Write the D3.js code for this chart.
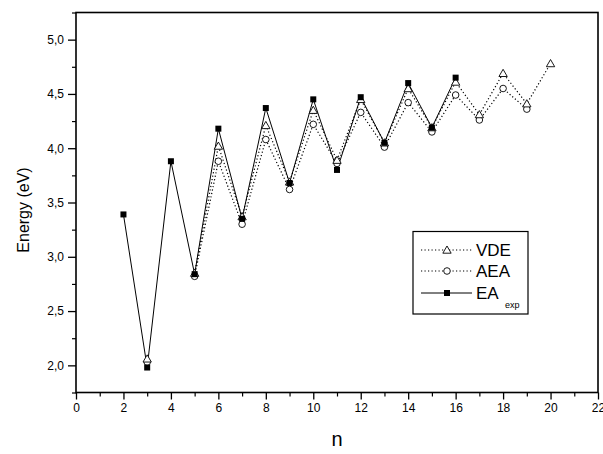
<!DOCTYPE html>
<html><head><meta charset="utf-8">
<script src="https://cdn.jsdelivr.net/npm/d3@7/dist/d3.min.js"></script>
<style>body{margin:0;background:#fff}svg{display:block}text{font-family:Arial,"Liberation Sans",sans-serif;fill:#000}</style>
</head><body><svg id="c" width="603" height="454"></svg>
<script>
const nExp = [2,3,4,5,6,7,8,9,10,11,12,13,14,15,16];
const eaExp = [3.39,1.98,3.88,2.84,4.18,3.35,4.37,3.68,4.45,3.80,4.47,4.05,4.60,4.19,4.65];
const nVDE = [3,4,5,6,7,8,9,10,11,12,13,14,15,16,17,18,19,20];
const vde = [2.06,null,2.85,4.02,3.37,4.21,3.69,4.35,3.89,4.45,4.05,4.55,4.19,4.61,4.31,4.69,4.41,4.78];
const nAEA = [3,4,5,6,7,8,9,10,11,12,13,14,15,16,17,18,19];
const aea = [2.03,null,2.82,3.88,3.30,4.08,3.62,4.22,3.86,4.33,4.01,4.42,4.15,4.49,4.26,4.55,4.36];
const xTicks = [0,2,4,6,8,10,12,14,16,18,20,22];
const yTicks = [2.0,2.5,3.0,3.5,4.0,4.5,5.0];

const svg = d3.select("#c");
const L=76,R=598,T=12.5,B=392.5;
const x = d3.scaleLinear().domain([0,22]).range([L,R]);
const y = d3.scaleLinear().domain([1.75,5.25]).range([B,T]);

// minor ticks
const xMinor = d3.range(1,22,2);
const yMinor = d3.range(1.75,5.26,0.5);
svg.append("g").attr("transform",`translate(0,${B})`)
  .call(d3.axisBottom(x).tickValues(xMinor).tickSize(4).tickFormat(""))
  .call(g=>{g.select(".domain").remove();g.selectAll("line").attr("stroke-width",1.2);});
svg.append("g").attr("transform",`translate(${L},0)`)
  .call(d3.axisLeft(y).tickValues(yMinor).tickSize(4).tickFormat(""))
  .call(g=>{g.select(".domain").remove();g.selectAll("line").attr("stroke-width",1.2);});
// major
svg.append("g").attr("transform",`translate(0,${B})`)
  .call(d3.axisBottom(x).tickValues(xTicks).tickSize(7).tickPadding(4).tickFormat(d3.format("d")))
  .call(g=>{g.select(".domain").remove();g.selectAll("line").attr("stroke-width",1.3);
    g.selectAll("text").attr("font-size",12).style("font-family","Arial");});
svg.append("g").attr("transform",`translate(${L},0)`)
  .call(d3.axisLeft(y).tickValues(yTicks).tickSize(8).tickPadding(4).tickFormat(d=>d.toFixed(1).replace(".",",")))
  .call(g=>{g.select(".domain").remove();g.selectAll("line").attr("stroke-width",1.3);
    g.selectAll("text").attr("font-size",12).style("font-family","Arial");});
// frame
svg.append("rect").attr("x",L).attr("y",T).attr("width",R-L).attr("height",B-T)
  .attr("fill","none").attr("stroke","#000").attr("stroke-width",1.6);

const line = d3.line().defined(d=>d[1]!=null).x(d=>x(d[0])).y(d=>y(d[1]));
const dExp = nExp.map((n,i)=>[n,eaExp[i]]);
const dVDE = nVDE.map((n,i)=>[n,vde[i]]);
const dAEA = nAEA.map((n,i)=>[n,aea[i]]);

svg.append("path").datum(dVDE).attr("d",line).attr("fill","none").attr("stroke","#000").attr("stroke-width",1.2).attr("stroke-dasharray","1.2,2.3");
svg.append("path").datum(dAEA).attr("d",line).attr("fill","none").attr("stroke","#000").attr("stroke-width",1.2).attr("stroke-dasharray","1.2,2.3");
svg.append("path").datum(dExp).attr("d",line).attr("fill","none").attr("stroke","#000").attr("stroke-width",1);

const tri = d3.symbol().type(d3.symbolTriangle).size(30);
function drawTri(g,cx,cy){g.append("path").attr("d",tri()).attr("transform",`translate(${cx},${cy+0.8})`).attr("fill","#fff").attr("stroke","#000").attr("stroke-width",0.9);}
function drawCirc(g,cx,cy){g.append("circle").attr("cx",cx).attr("cy",cy).attr("r",3.3).attr("fill","#fff").attr("stroke","#000").attr("stroke-width",0.9);}
function drawSq(g,cx,cy){g.append("rect").attr("x",cx-3).attr("y",cy-3).attr("width",6).attr("height",6).attr("fill","#000");}

const gm = svg.append("g");
dAEA.filter(d=>d[1]!=null).forEach(d=>drawCirc(gm,x(d[0]),y(d[1])));
dVDE.filter(d=>d[1]!=null).forEach(d=>drawTri(gm,x(d[0]),y(d[1])));
dExp.forEach(d=>drawSq(gm,x(d[0]),y(d[1])));

// legend
const lg = svg.append("g");
lg.append("rect").attr("x",413).attr("y",231.5).attr("width",115).attr("height",82.5).attr("fill","#fff").attr("stroke","#000").attr("stroke-width",1.2);
const rows=[{k:"VDE",y:250,dash:"1.2,2.3",m:drawTri},{k:"AEA",y:271,dash:"1.2,2.3",m:drawCirc},{k:"EA",y:293,dash:null,m:drawSq}];
rows.forEach(r=>{
  const p=lg.append("line").attr("x1",421).attr("x2",472).attr("y1",r.y).attr("y2",r.y).attr("stroke","#000").attr("stroke-width",r.dash?1.2:1);
  if(r.dash)p.attr("stroke-dasharray",r.dash);
  r.m(lg,447,r.y);
  lg.append("text").attr("x",476).attr("y",r.y+6).attr("font-size",17).text(r.k);
});
lg.append("text").attr("x",505).attr("y",308).attr("font-size",9).text("exp");

svg.append("text").attr("transform","translate(29,210) rotate(-90)").attr("text-anchor","middle").attr("font-size",16).text("Energy (eV)");
svg.append("text").attr("x",337).attr("y",446).attr("text-anchor","middle").attr("font-size",20).text("n");
</script></body></html>
